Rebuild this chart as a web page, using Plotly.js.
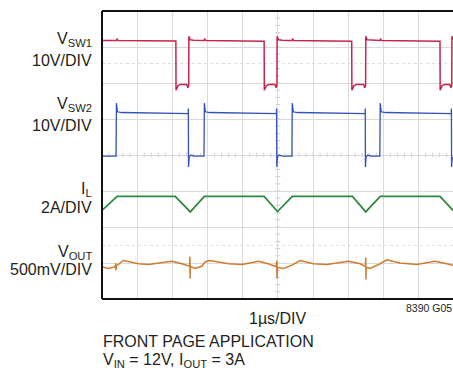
<!DOCTYPE html>
<html>
<head>
<meta charset="utf-8">
<script src="https://cdn.plot.ly/plotly-3.0.1.min.js"></script>
<style>
html,body{margin:0;padding:0;background:#fff;}
#chart{width:453px;height:372px;}
</style>
</head>
<body>
<div id="chart"></div>
<script>
// time axis in divisions (1 µs/DIV), vertical in divisions
const timeSW1 = [0, 0.41, 0.43, 0.46,
  2.10, 2.105, 2.16, 2.23, 2.41, 2.44, 2.465, 2.47, 2.51, 2.60,
  2.90, 2.92, 2.95,
  4.61, 4.615, 4.67, 4.74, 4.92, 4.95, 4.975, 4.98, 5.02, 5.12,
  5.40, 5.42, 5.45,
  7.10, 7.105, 7.16, 7.23, 7.44, 7.47, 7.495, 7.50, 7.54, 7.64,
  7.90, 7.92, 7.95,
  9.61, 9.615, 9.67, 9.74, 9.89, 9.92, 9.945, 9.95, 9.98];
const vSW1 = [7.18, 7.18, 7.22, 7.18,
  7.17, 5.80, 5.92, 5.96, 5.96, 5.87, 5.92, 7.30, 7.20, 7.19,
  7.18, 7.22, 7.18,
  7.16, 5.80, 5.92, 5.96, 5.96, 5.87, 5.92, 7.30, 7.20, 7.19,
  7.18, 7.22, 7.18,
  7.16, 5.80, 5.92, 5.96, 5.96, 5.87, 5.92, 7.30, 7.20, 7.19,
  7.18, 7.22, 7.18,
  7.16, 5.80, 5.92, 5.96, 5.96, 5.87, 5.92, 7.30, 7.20];

const timeSW2 = [0, 0.40, 0.41, 0.44, 0.56,
  2.45, 2.455, 2.46, 2.48, 2.53, 2.61,
  2.90, 2.91, 2.94, 3.06,
  4.96, 4.965, 4.97, 4.99, 5.04, 5.12,
  5.40, 5.41, 5.44, 5.56,
  7.48, 7.485, 7.49, 7.51, 7.56, 7.64,
  7.90, 7.91, 7.94, 8.06,
  9.93, 9.935, 9.94, 9.96];
const vSW2 = [3.97, 3.97, 5.44, 5.20, 5.18,
  5.15, 5.29, 3.67, 3.95, 4.00, 3.97,
  3.97, 5.44, 5.20, 5.18,
  5.15, 5.29, 3.67, 3.95, 4.00, 3.97,
  3.97, 5.44, 5.20, 5.18,
  5.15, 5.29, 3.67, 3.95, 4.00, 3.97,
  3.97, 5.44, 5.20, 5.18,
  5.15, 5.29, 3.67, 3.95];

const timeIL = [0, 0.43, 2.08, 2.51, 2.91, 4.61, 4.99, 5.41, 7.12, 7.50, 7.91, 9.61, 9.98];
const iL = [2.46, 2.85, 2.85, 2.42, 2.85, 2.85, 2.43, 2.85, 2.85, 2.42, 2.85, 2.85, 2.46];

const timeOUT = [0.02, 0.19, 0.38, 0.39, 0.395, 0.41, 0.61, 0.85, 1.04, 1.32, 1.61, 1.99, 2.27,
  2.49, 2.50, 2.505, 2.51, 2.65, 2.84, 2.93, 3.08, 3.31, 3.60, 3.98, 4.45, 4.73,
  4.95, 4.97, 4.975, 4.99, 5.16, 5.40, 5.63, 6.01, 6.39, 7.01, 7.34,
  7.49, 7.50, 7.505, 7.51, 7.62, 7.91, 8.10, 8.47, 8.95, 9.47, 9.80, 9.98];
const vOUT = [0.89, 0.85, 0.90, 0.99, 0.80, 0.92, 1.07, 1.03, 0.98, 0.96, 1.00, 1.05, 0.98,
  0.91, 1.17, 0.57, 0.90, 0.85, 0.91, 1.03, 1.07, 1.03, 0.98, 0.96, 1.05, 0.98,
  0.90, 1.07, 0.57, 0.88, 0.85, 0.94, 1.07, 0.98, 0.96, 1.05, 0.98,
  0.90, 1.15, 0.54, 0.88, 0.85, 0.98, 1.09, 1.00, 0.96, 1.05, 0.98, 0.94];

const channelLabels = ['V<sub>SW1</sub>', '10V/DIV', 'V<sub>SW2</sub>', '10V/DIV', 'I<sub>L</sub>', '2A/DIV', 'V<sub>OUT</sub>', '500mV/DIV'];
const channelLabelY = [7.20, 6.62, 5.40, 4.81, 3.05, 2.53, 1.30, 0.83];
const xAxisLabel = '1µs/DIV';
const captionLines = ['FRONT PAGE APPLICATION', 'V<sub>IN</sub> = 12V, I<sub>OUT</sub> = 3A'];
const figureId = '8390 G05';

const FONT = '"Liberation Sans", Arial, sans-serif';
const TXT = '#231f20';

const traces = [
  {x: timeSW1, y: vSW1, mode: 'lines', line: {color: '#c8254d', width: 1.5}, hoverinfo: 'skip'},
  {x: timeSW2, y: vSW2, mode: 'lines', line: {color: '#3352b8', width: 1.3}, hoverinfo: 'skip'},
  {x: timeIL, y: iL, mode: 'lines', line: {color: '#2e8a3e', width: 1.8}, hoverinfo: 'skip'},
  {x: timeOUT, y: vOUT, mode: 'lines', line: {color: '#cf7b2d', width: 1.5}, hoverinfo: 'skip'}
];

const shapes = [];
// center graticule tick marks
for (let i = 0; i <= 50; i++) {
  const t = i * 0.2;
  shapes.push({type: 'line', xref: 'x', yref: 'y', x0: t, x1: t, y0: 3.94, y1: 4.06, line: {color: '#cccccc', width: 1}, layer: 'below'});
}
for (let i = 0; i <= 40; i++) {
  const v = i * 0.2;
  shapes.push({type: 'line', xref: 'x', yref: 'y', x0: 4.93, x1: 5.07, y0: v, y1: v, line: {color: '#cccccc', width: 1}, layer: 'below'});
}
// faint dotted reference lines
[6.54, 1.49].forEach(v => shapes.push({type: 'line', xref: 'paper', yref: 'y', x0: 0, x1: 1, y0: v, y1: v, line: {color: '#dddddd', width: 1, dash: 'dot'}, layer: 'below'}));
// frame (left, top, bottom)
shapes.push({type: 'line', xref: 'paper', yref: 'paper', x0: 0, x1: 1, y0: 1, y1: 1, line: {color: '#111', width: 2}});
shapes.push({type: 'line', xref: 'paper', yref: 'paper', x0: 0, x1: 1, y0: 0, y1: 0, line: {color: '#111', width: 2}});
shapes.push({type: 'line', xref: 'paper', yref: 'paper', x0: 0, x1: 0, y0: 0, y1: 1, line: {color: '#111', width: 2}});

const annotations = [];
channelLabels.forEach((txt, i) => annotations.push({
  text: txt, xref: 'paper', yref: 'y', x: 0, y: channelLabelY[i], xanchor: 'right', yanchor: 'middle',
  xshift: -9, showarrow: false, borderpad: 0, font: {family: FONT, size: 16, color: TXT}
}));
annotations.push({text: xAxisLabel, xref: 'paper', yref: 'paper', x: 0.501, y: -0.068, xanchor: 'center', yanchor: 'middle',
  showarrow: false, borderpad: 0, font: {family: FONT, size: 16, color: TXT}});
annotations.push({text: captionLines[0], xref: 'paper', yref: 'paper', x: 0, y: -0.147, xanchor: 'left', yanchor: 'middle',
  showarrow: false, borderpad: 0, font: {family: FONT, size: 16, color: TXT}});
annotations.push({text: captionLines[1], xref: 'paper', yref: 'paper', x: 0, y: -0.212, xanchor: 'left', yanchor: 'middle',
  showarrow: false, borderpad: 0, font: {family: FONT, size: 16, color: TXT}});
annotations.push({text: figureId, xref: 'paper', yref: 'paper', x: 0.999, y: -0.030, xanchor: 'right', yanchor: 'middle',
  showarrow: false, borderpad: 0, font: {family: FONT, size: 10.5, color: TXT}});

const layout = {
  width: 453, height: 372,
  margin: {l: 101.7, r: 0, t: 11, b: 73.3},
  paper_bgcolor: '#fff', plot_bgcolor: '#fff',
  showlegend: false,
  xaxis: {range: [0, 9.98], dtick: 1, tick0: 0, showgrid: true, gridcolor: '#dadada', gridwidth: 1,
    zeroline: false, showline: false, ticks: '', showticklabels: false, fixedrange: true},
  yaxis: {range: [0, 8], dtick: 1, tick0: 0, showgrid: true, gridcolor: '#dadada', gridwidth: 1,
    zeroline: false, showline: false, ticks: '', showticklabels: false, fixedrange: true},
  shapes: shapes,
  annotations: annotations
};

Plotly.newPlot('chart', traces, layout, {displayModeBar: false, staticPlot: true});
</script>
</body>
</html>
